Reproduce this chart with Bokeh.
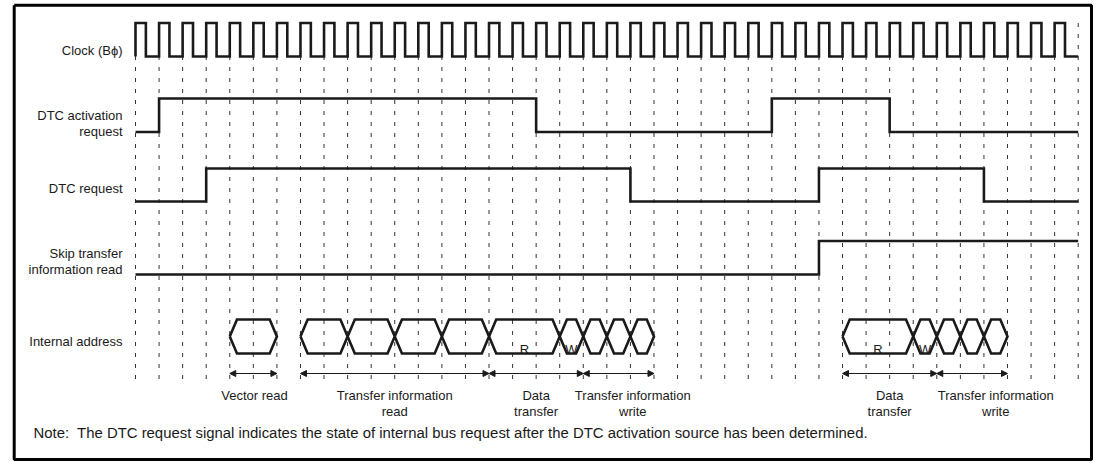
from bokeh.plotting import figure
from bokeh.models import Range1d, ColumnDataSource, Arrow, NormalHead
from bokeh.core.properties import value
from bokeh.embed import file_html
from bokeh.resources import INLINE

# ---------------- data ----------------
N_PERIODS = 40                      # clock periods shown
CLOCK_DUTY = 0.44                   # fraction of period the clock is high
signal_labels = [["Clock (Bϕ)"], ["DTC activation", "request"], ["DTC request"],
                 ["Skip transfer", "information read"], ["Internal address"]]
dtc_activation_edges = [1, 17, 27, 32]   # toggles, starts low
dtc_request_edges = [3, 21, 29, 36]      # toggles, starts low
skip_read_edges = [29]                   # toggles, starts low

bus_start = [4, 7, 9, 11, 13, 15, 18, 19, 20, 21, 30, 33, 34, 35, 36]
bus_end = [6, 9, 11, 13, 15, 18, 19, 20, 21, 22, 33, 34, 35, 36, 37]
bus_text = ["", "", "", "", "", "R", "W", "", "", "", "R", "W", "", "", ""]

phase_start = [4, 7, 15, 19, 30, 34]
phase_end = [6, 15, 19, 22, 34, 37]
phase_line1 = ["Vector read", "Transfer information", "Data", "Transfer information", "Data", "Transfer information"]
phase_line2 = ["", "read", "transfer", "write", "transfer", "write"]
phase_label_x = [5.05, 11, 17, 21.1, 32, 36.5]

note_text = ("Note:\u00a0 The DTC request signal indicates the state of internal bus request "
             "after the DTC activation source has been determined.")

# ---------------- layout (page pixels) ----------------
W, H = 1100, 464
PX0, PERIOD_PX = 135.0, 23.5675
xs = -PX0 / PERIOD_PX
xe = xs + W / PERIOD_PX

def px2x(px):
    return (px - PX0) / PERIOD_PX

LANES = {  # (high y, low y) in page pixels
    "clock": (22.5, 56.0),
    "act": (98.0, 131.5),
    "req": (168.0, 201.0),
    "skip": (240.5, 274.0),
    "bus": (319.0, 353.0),
}
GRID_TOP, GRID_BOTTOM = 22.5, 380.0
ARROW_Y = 373.0
INK = "#1a1a1a"
FONT = value("Liberation Sans")
FS = value("13px")
LW = 2.6

p = figure(width=W, height=H, output_backend="svg", toolbar_location=None,
           x_range=Range1d(xs, xe), y_range=Range1d(H, 0), min_border=0)
p.axis.visible = False
p.grid.visible = False
p.outline_line_color = None
p.background_fill_color = "white"
p.border_fill_color = "white"

# frame
fl, fr, ft, fb = px2x(13.7), px2x(1091.0), 4.7, 459.0
p.line([fl, fr, fr, fl, fl], [ft, ft, fb, fb, ft], line_color="black", line_width=3)

# dashed clock grid
gx = list(range(N_PERIODS + 1))
p.segment(x0=gx, x1=gx, y0=[GRID_TOP] * len(gx), y1=[GRID_BOTTOM] * len(gx),
          line_color="#333333", line_width=1, line_dash="4 7")

# clock
cx, cy = [], []
hi, lo = LANES["clock"]
for i in range(N_PERIODS):
    cx += [i, i, i + CLOCK_DUTY, i + CLOCK_DUTY]
    cy += [lo, hi, hi, lo]
cx.append(N_PERIODS); cy.append(lo)
p.line(cx, cy, line_color=INK, line_width=LW, line_join="miter")

def wave(edges, lane, start=0, end=N_PERIODS):
    hi, lo = LANES[lane]
    level = lo
    xs_, ys_ = [start], [level]
    for e in edges:
        xs_.append(e); ys_.append(level)
        level = hi if level == lo else lo
        xs_.append(e); ys_.append(level)
    xs_.append(end); ys_.append(level)
    return xs_, ys_

for edges, lane in [(dtc_activation_edges, "act"), (dtc_request_edges, "req"), (skip_read_edges, "skip")]:
    wx, wy = wave(edges, lane)
    p.line(wx, wy, line_color=INK, line_width=LW, line_join="miter")

# bus hexagons
bt, bb = LANES["bus"]
bc = (bt + bb) / 2
slope = px2x(PX0 + 7.2)
hx, hy = [], []
for a, b in zip(bus_start, bus_end):
    hx.append([a, a + slope, b - slope, b, b - slope, a + slope, a])
    hy.append([bc, bt, bt, bc, bb, bb, bc])
p.multi_line(hx, hy, line_color=INK, line_width=LW, line_join="miter")

bus_src = ColumnDataSource(dict(x=[(a + b) / 2 for a, b in zip(bus_start, bus_end)],
                                y=[348.5] * len(bus_text), t=bus_text))
p.text(x="x", y="y", text="t", source=bus_src, text_font=FONT, text_font_size=FS,
       text_align="center", text_baseline="alphabetic", text_color=INK)

# phase arrows
head = dict(size=6, fill_color=INK, line_color=INK, line_width=1)
arr_src = ColumnDataSource(dict(x0=phase_start, x1=phase_end, y=[ARROW_Y] * len(phase_start)))
p.add_layout(Arrow(start=NormalHead(**head), end=NormalHead(**head),
                   x_start="x0", y_start="y", x_end="x1", y_end="y", source=arr_src,
                   line_color=INK, line_width=1.2))

lab_src = ColumnDataSource(dict(x=phase_label_x + phase_label_x,
                                y=[394.5] * len(phase_line1) + [410.5] * len(phase_line2),
                                t=phase_line1 + phase_line2))
p.text(x="x", y="y", text="t", source=lab_src, text_font=FONT, text_font_size=FS,
       text_align="center", text_baseline="alphabetic", text_color=INK)

# signal names
name_baselines = [[50.0], [115.0, 130.5], [187.5], [253.0, 269.0], [340.5]]
nt, ny = [], []
for lines, bls in zip(signal_labels, name_baselines):
    nt += lines; ny += bls
name_src = ColumnDataSource(dict(x=[px2x(122)] * len(nt), y=ny, t=nt))
p.text(x="x", y="y", text="t", source=name_src, text_font=FONT, text_font_size=FS,
       text_align="right", text_baseline="alphabetic", text_color=INK)

# note
p.text(x=[px2x(33)], y=[432.5], text=[note_text], text_font=FONT, text_font_size=value("14.9px"),
       text_align="left", text_baseline="alphabetic", text_color=INK)

open("out.html", "w").write(file_html(p, INLINE))
